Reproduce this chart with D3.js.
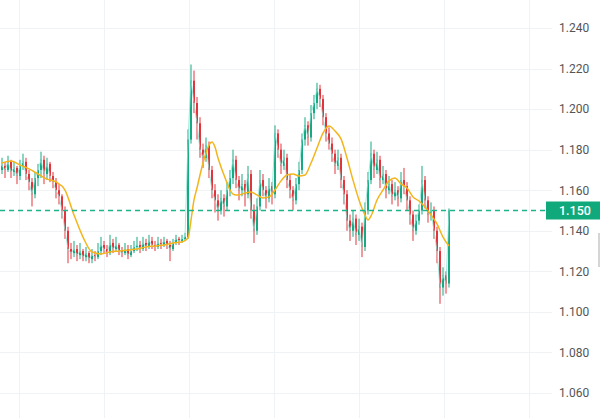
<!DOCTYPE html>
<html><head><meta charset="utf-8">
<script src="https://cdn.jsdelivr.net/npm/d3@7"></script>
<style>html,body{margin:0;padding:0;background:#fff;}svg{display:block;}</style>
</head><body>
<script>
const opens = [1.170,1.172,1.170,1.174,1.169,1.171,1.167,1.172,1.174,1.168,1.164,1.158,1.166,1.170,1.175,1.168,1.173,1.167,1.164,1.160,1.157,1.150,1.140,1.131,1.129,1.131,1.128,1.130,1.127,1.129,1.126,1.128,1.127,1.130,1.133,1.131,1.129,1.134,1.131,1.133,1.130,1.129,1.131,1.128,1.130,1.132,1.133,1.131,1.134,1.132,1.135,1.133,1.132,1.134,1.133,1.135,1.133,1.131,1.134,1.136,1.135,1.136,1.137,1.185,1.214,1.203,1.193,1.180,1.176,1.182,1.170,1.160,1.155,1.150,1.156,1.152,1.160,1.166,1.175,1.165,1.160,1.163,1.158,1.168,1.150,1.140,1.152,1.165,1.160,1.156,1.162,1.158,1.188,1.180,1.172,1.176,1.165,1.160,1.155,1.163,1.170,1.185,1.192,1.186,1.198,1.203,1.210,1.205,1.196,1.188,1.183,1.178,1.172,1.176,1.165,1.158,1.145,1.140,1.146,1.138,1.142,1.132,1.150,1.165,1.178,1.170,1.175,1.165,1.168,1.160,1.163,1.157,1.160,1.156,1.165,1.162,1.155,1.148,1.140,1.145,1.150,1.165,1.155,1.148,1.150,1.140,1.130,1.112,1.118,1.114];
const highs = [1.176,1.174,1.177,1.175,1.174,1.172,1.175,1.178,1.176,1.170,1.166,1.169,1.173,1.179,1.177,1.176,1.174,1.169,1.166,1.163,1.158,1.152,1.142,1.134,1.135,1.133,1.134,1.131,1.132,1.130,1.131,1.130,1.134,1.137,1.135,1.133,1.138,1.136,1.137,1.134,1.132,1.134,1.133,1.133,1.135,1.137,1.135,1.137,1.136,1.138,1.137,1.135,1.137,1.136,1.137,1.136,1.135,1.136,1.138,1.137,1.138,1.139,1.190,1.222,1.219,1.206,1.196,1.183,1.186,1.184,1.172,1.163,1.158,1.160,1.158,1.164,1.170,1.180,1.177,1.167,1.168,1.165,1.172,1.170,1.153,1.156,1.170,1.168,1.162,1.166,1.164,1.192,1.190,1.183,1.180,1.178,1.168,1.162,1.166,1.174,1.188,1.196,1.194,1.202,1.207,1.213,1.212,1.207,1.198,1.191,1.186,1.180,1.180,1.178,1.167,1.160,1.148,1.150,1.148,1.146,1.144,1.154,1.169,1.184,1.180,1.179,1.177,1.172,1.170,1.167,1.165,1.164,1.162,1.169,1.171,1.164,1.157,1.150,1.148,1.153,1.172,1.167,1.157,1.154,1.152,1.142,1.132,1.122,1.120,1.151];
const lows = [1.168,1.166,1.169,1.166,1.167,1.163,1.165,1.170,1.165,1.160,1.152,1.156,1.162,1.166,1.163,1.165,1.164,1.161,1.156,1.153,1.146,1.136,1.124,1.126,1.127,1.125,1.126,1.125,1.125,1.124,1.124,1.125,1.126,1.128,1.129,1.127,1.128,1.129,1.130,1.128,1.127,1.128,1.126,1.127,1.129,1.130,1.129,1.130,1.130,1.131,1.131,1.130,1.131,1.131,1.132,1.131,1.125,1.130,1.133,1.133,1.134,1.135,1.136,1.183,1.198,1.185,1.176,1.171,1.174,1.166,1.156,1.149,1.145,1.148,1.147,1.150,1.157,1.163,1.161,1.155,1.157,1.152,1.156,1.146,1.134,1.138,1.150,1.157,1.151,1.154,1.153,1.156,1.176,1.168,1.170,1.161,1.156,1.150,1.153,1.160,1.168,1.182,1.182,1.184,1.195,1.200,1.201,1.192,1.184,1.180,1.174,1.168,1.170,1.161,1.153,1.140,1.135,1.137,1.133,1.135,1.127,1.130,1.148,1.163,1.166,1.168,1.161,1.163,1.156,1.158,1.153,1.155,1.152,1.154,1.158,1.150,1.143,1.135,1.138,1.143,1.148,1.151,1.144,1.145,1.136,1.124,1.104,1.108,1.109,1.112];
const closes = [1.172,1.170,1.174,1.169,1.171,1.167,1.172,1.174,1.168,1.164,1.158,1.166,1.170,1.175,1.168,1.173,1.167,1.164,1.160,1.157,1.150,1.140,1.131,1.129,1.131,1.128,1.130,1.127,1.129,1.126,1.128,1.127,1.130,1.133,1.131,1.129,1.134,1.131,1.133,1.130,1.129,1.131,1.128,1.130,1.132,1.133,1.131,1.134,1.132,1.135,1.133,1.132,1.134,1.133,1.135,1.133,1.131,1.134,1.136,1.135,1.136,1.137,1.185,1.214,1.203,1.193,1.180,1.176,1.182,1.170,1.160,1.155,1.150,1.156,1.152,1.160,1.166,1.175,1.165,1.160,1.163,1.158,1.168,1.150,1.140,1.152,1.165,1.160,1.156,1.162,1.158,1.188,1.180,1.172,1.176,1.165,1.160,1.155,1.163,1.170,1.185,1.192,1.186,1.198,1.203,1.210,1.205,1.196,1.188,1.183,1.178,1.172,1.176,1.165,1.158,1.145,1.140,1.146,1.138,1.142,1.132,1.150,1.165,1.178,1.170,1.175,1.165,1.168,1.160,1.163,1.157,1.160,1.156,1.165,1.162,1.155,1.148,1.140,1.145,1.150,1.165,1.155,1.148,1.150,1.140,1.130,1.112,1.118,1.114,1.150];

const maIdx = [0,3,6,9,12,15,18,21,24,27,30,33,36,39,42,45,48,51,54,57,60,62,63,64,65,66,67,68,69,70,71,72,73,74,75,76,77,78,79,81,83,85,87,89,91,93,95,97,99,101,103,105,107,109,111,113,115,117,119,121,122,123,125,127,129,131,133,135,137,139,141,143,145,147,149];
const maVals = [1.1734,1.1744,1.1724,1.1705,1.1680,1.1655,1.1641,1.1601,1.1478,1.1369,1.1295,1.1286,1.1295,1.1300,1.1305,1.1310,1.1320,1.1325,1.1330,1.1340,1.1345,1.1364,1.1453,1.1552,1.1611,1.1675,1.1734,1.1784,1.1823,1.1838,1.1813,1.1759,1.1715,1.1675,1.1636,1.1601,1.1581,1.1577,1.1577,1.1586,1.1591,1.1577,1.1562,1.1567,1.1601,1.1646,1.1675,1.1680,1.1670,1.1675,1.1734,1.1808,1.1882,1.1917,1.1892,1.1853,1.1759,1.1650,1.1552,1.1478,1.1453,1.1473,1.1552,1.1601,1.1646,1.1660,1.1631,1.1611,1.1567,1.1547,1.1517,1.1478,1.1434,1.1369,1.1325];

const yTicks = [1.06,1.08,1.10,1.12,1.14,1.16,1.18,1.20,1.22,1.24];
const vGridIdx = [5.67,34,62.33,90.67,119,147.33,175.67];
const lastPrice = 1.150;

const W = 600, H = 418;
const green = "#17a982", red = "#e3343c";
const svg = d3.select("body").append("svg").attr("width", W).attr("height", H);

const x = d3.scaleLinear().domain([0, 149]).range([2, 449]);
const y = d3.scaleLinear().domain([1.06, 1.24]).range([393, 28]);
const plotRight = 552;

// grid
svg.append("g").selectAll("line").data(yTicks).join("line")
  .attr("x1", 0).attr("x2", plotRight)
  .attr("y1", d => Math.round(y(d)) + 0.5).attr("y2", d => Math.round(y(d)) + 0.5)
  .attr("stroke", "#eff3f5").attr("stroke-width", 1);
svg.append("g").selectAll("line").data(vGridIdx).join("line")
  .attr("x1", d => Math.round(x(d)) + 0.5).attr("x2", d => Math.round(x(d)) + 0.5)
  .attr("y1", 0).attr("y2", H)
  .attr("stroke", "#eff3f5").attr("stroke-width", 1);

// axis labels
const axis = d3.axisRight(y).tickValues(yTicks).tickFormat(d3.format(".3f")).tickSize(0).tickPadding(0);
const ag = svg.append("g").attr("transform", "translate(559,0)").call(axis);
ag.select(".domain").remove();
ag.selectAll("text").attr("fill", "#555").attr("font-family", "Roboto, sans-serif").attr("font-size", "12px");

// candles
const idx = d3.range(closes.length);
const cg = svg.append("g");
cg.selectAll("line").data(idx).join("line")
  .attr("x1", i => x(i)).attr("x2", i => x(i))
  .attr("y1", i => y(highs[i])).attr("y2", i => y(lows[i]))
  .attr("stroke", i => closes[i] >= opens[i] ? green : red).attr("stroke-width", 1);
cg.selectAll("rect").data(idx).join("rect")
  .attr("x", i => x(i) - 1).attr("width", 2)
  .attr("y", i => y(Math.max(opens[i], closes[i])))
  .attr("height", i => Math.max(1, Math.abs(y(opens[i]) - y(closes[i]))))
  .attr("fill", i => closes[i] >= opens[i] ? green : red);

// light close line
svg.append("path").datum(idx)
  .attr("d", d3.line().x(i => x(i)).y(i => y(closes[i])))
  .attr("fill", "none").attr("stroke", "#8fe3d6").attr("stroke-width", 1).attr("opacity", 0.8);

// moving average
svg.append("path").datum(d3.range(maIdx.length))
  .attr("d", d3.line().x(k => x(maIdx[k])).y(k => y(maVals[k])).curve(d3.curveMonotoneX))
  .attr("fill", "none").attr("stroke", "#f4b51c").attr("stroke-width", 1.5);

// last price dashed line
svg.append("line")
  .attr("x1", 0).attr("x2", 546)
  .attr("y1", y(lastPrice)).attr("y2", y(lastPrice))
  .attr("stroke", "#1cb489").attr("stroke-width", 1.5).attr("stroke-dasharray", "5,4");

// price label
svg.append("rect").attr("x", 546).attr("y", y(lastPrice) - 9).attr("width", 54).attr("height", 18).attr("fill", "#10a97b");
svg.append("text").attr("x", 559).attr("y", y(lastPrice) + 4.5)
  .attr("fill", "#fff").attr("font-family", "Roboto, sans-serif").attr("font-size", "12.5px").attr("font-weight", 500)
  .text(d3.format(".3f")(lastPrice));

// scrollbar hint
svg.append("rect").attr("x", 598).attr("y", 233).attr("width", 2).attr("height", 34).attr("fill", "#d5d5d5");
</script>
</body></html>
